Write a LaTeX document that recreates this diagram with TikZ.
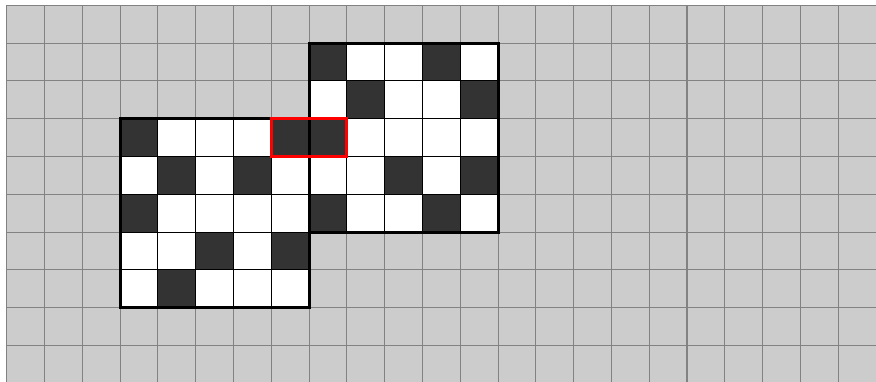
\documentclass[tikz,border=0pt]{standalone}
\usetikzlibrary{positioning}
\definecolor{boardBg}{HTML}{CCCCCC}
\definecolor{boardLine}{HTML}{828282}
\definecolor{cellDark}{HTML}{333333}
\tikzset{
  gridline/.style={draw=boardLine, line width=0.8pt},
  cellline/.style={draw=black, line width=0.6pt},
  cellD/.style={fill=cellDark, draw=black, line width=0.6pt},
  blockframe/.style={draw=black, line width=2.2pt},
  hilite/.style={draw=red, line width=2.2pt}
}
\begin{document}
\begin{tikzpicture}[x=1cm,y=-1cm]
  \useasboundingbox (-0.177,-0.14) rectangle (23,9.966);
  % board
  \fill[boardBg] (0,0) rectangle (23,9.966);
  \draw[gridline] (0,0) grid (22.99,9.96);
  % left block
  \fill[white] (3,3) rectangle (8,8);
  \draw[cellline] (3,3) grid (8,8);
  \foreach \x/\y in {3/3,7/3,4/4,6/4,3/5,5/6,7/6,4/7}
    \filldraw[cellD] (\x,\y) rectangle ++(1,1);
  \draw[blockframe] (3,3) rectangle (8,8);
  % right block
  \fill[white] (8,1) rectangle (13,6);
  \draw[cellline] (8,1) grid (13,6);
  \foreach \x/\y in {8/1,11/1,9/2,12/2,8/3,10/4,12/4,8/5,11/5}
    \filldraw[cellD] (\x,\y) rectangle ++(1,1);
  \draw[blockframe] (8,1) rectangle (13,6);
  % highlighted pair
  \draw[hilite] (7,3) rectangle (9,4);
\end{tikzpicture}
\end{document}
